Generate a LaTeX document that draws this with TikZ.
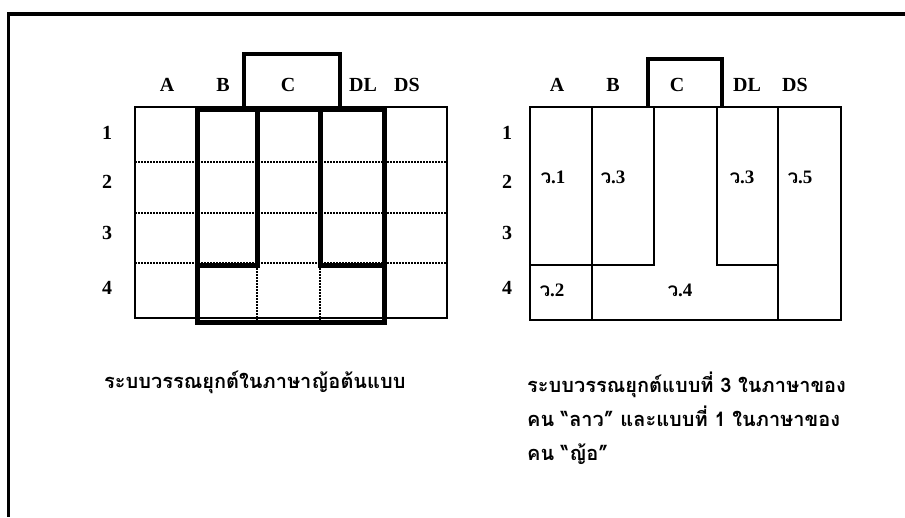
\documentclass[tikz,border=0pt]{standalone}
\usepackage{fontspec}
\setmainfont{Liberation Serif}
\newfontfamily\thaifont[Script=Thai]{Loma}
\usetikzlibrary{positioning}

\begin{document}
\begin{tikzpicture}[x=1pt,y=-1pt]
\tikzset{gridline/.style={line width=1.6pt},heavy/.style={line width=5pt},dots/.style={line width=1.6pt,dash pattern=on 1.6pt off 1.4pt},
colhead/.style={font=\fontsize{20}{20}\selectfont\bfseries},
tone/.style={font=\fontsize{19}{19}\selectfont\bfseries},
capt/.style={font=\thaifont\bfseries\fontsize{20}{34}\selectfont,align=left,anchor=west,inner sep=0pt}}
\useasboundingbox (0,0) rectangle (905,517);
% page frame
\draw[line width=4pt] (7,14) -- (905,14);
\draw[line width=3pt] (8,12) -- (8,517);
% left chart
\draw[gridline] (135,107) rectangle (447,318);
\foreach \y in {162,213,263} \draw[dots] (135,\y) -- (447,\y);
\draw[dots] (257,265) -- (257,322);
\draw[dots] (320,265) -- (320,322);
\draw[heavy] (197,109) rectangle (384,322);
\draw[heavy] (257,109) |- (197,265);
\draw[heavy] (320,109) |- (384,265);
\draw[line width=4pt] (244,109) |- (340,54) -- (340,109);
\node[colhead] (lA) at (167,85) {A};
\node[colhead] (lB) at (223,85) {B};
\node[colhead] (lC) at (288,85) {C};
\node[colhead] (lDL) at (363,85) {DL};
\node[colhead] (lDS) at (407,85) {DS};
\node[colhead] (l1) at (107,133) {1};
\node[colhead] (l2) at (107,182) {2};
\node[colhead] (l3) at (107,233) {3};
\node[colhead] (l4) at (107,288) {4};
% right chart
\draw[gridline] (530,107) rectangle (841,320);
\draw[gridline] (592,107) -- (592,320);
\draw[gridline] (654,107) |- (530,265);
\draw[gridline] (717,107) |- (778,265);
\draw[gridline] (778,107) -- (778,320);
\draw[line width=3.5pt] (648,107) |- (722,59) -- (722,107);
\node[colhead] (rA) at (557,85) {A};
\node[colhead] (rB) at (613,85) {B};
\node[colhead] (rC) at (677,85) {C};
\node[colhead] (rDL) at (747,85) {DL};
\node[colhead] (rDS) at (795,85) {DS};
\node[colhead] (r1) at (507,133) {1};
\node[colhead] (r2) at (507,182) {2};
\node[colhead] (r3) at (507,233) {3};
\node[colhead] (r4) at (507,288) {4};
\node[tone] (t1) at (553,177) {{\thaifont ว}.1};
\node[tone] (t3a) at (613,177) {{\thaifont ว}.3};
\node[tone] (t3b) at (742,177) {{\thaifont ว}.3};
\node[tone] (t5) at (800,177) {{\thaifont ว}.5};
\node[tone] (t2) at (552,290) {{\thaifont ว}.2};
\node[tone] (t4) at (680,290) {{\thaifont ว}.4};
% captions
\node[capt] (capL) at (104,382) {ระบบวรรณยุกต์ในภาษาญ้อต้นแบบ};
\node[capt] (capR) at (527,418) {ระบบวรรณยุกต์แบบที่ 3 ในภาษาของ\\คน “ลาว” และแบบที่ 1 ในภาษาของ\\คน “ญ้อ”};
\end{tikzpicture}
\end{document}
